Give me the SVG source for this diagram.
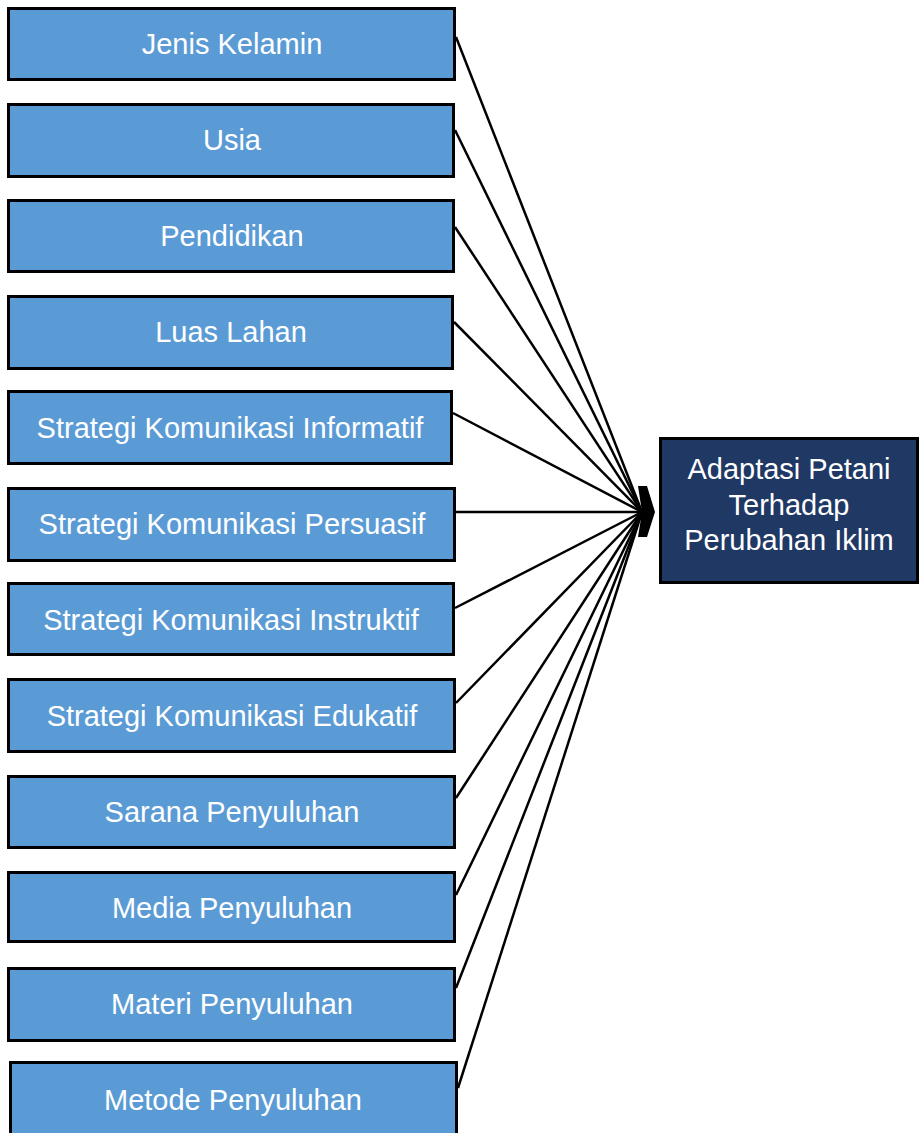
<svg xmlns="http://www.w3.org/2000/svg" width="919" height="1133" viewBox="0 0 919 1133">
<style>
.box{fill:#5B9BD5;stroke:#000;stroke-width:3}
.dark{fill:#203864;stroke:#000;stroke-width:3}
.t{font-family:"Liberation Sans",Arial,sans-serif;font-size:29px;fill:#fff;text-anchor:middle}
.c{stroke:#000;stroke-width:2.5;fill:none}
</style>
<rect width="919" height="1133" fill="#fff"/>
<g id="connectors">
<line class="c" x1="456" y1="37" x2="642" y2="512"/>
<line class="c" x1="455" y1="130" x2="642" y2="512"/>
<line class="c" x1="455" y1="227" x2="642" y2="512"/>
<line class="c" x1="454" y1="322" x2="642" y2="512"/>
<line class="c" x1="453" y1="413" x2="642" y2="512"/>
<line class="c" x1="456" y1="512" x2="642" y2="512"/>
<line class="c" x1="455" y1="608" x2="642" y2="512"/>
<line class="c" x1="456" y1="703" x2="642" y2="512"/>
<line class="c" x1="456" y1="798" x2="642" y2="512"/>
<line class="c" x1="456" y1="895" x2="642" y2="512"/>
<line class="c" x1="456" y1="988" x2="642" y2="512"/>
<line class="c" x1="458" y1="1088" x2="642" y2="512"/>
<polygon points="638,486 647,486 655,512 647,537 638,537 642,512" fill="#000"/>
</g>
<g id="n1"><rect class="box" x="8.5" y="8.5" width="446" height="71"/><text class="t" x="232" y="54">Jenis Kelamin</text></g>
<g id="n2"><rect class="box" x="8.5" y="104.5" width="445" height="72"/><text class="t" x="232" y="150">Usia</text></g>
<g id="n3"><rect class="box" x="8.5" y="200.5" width="445" height="71"/><text class="t" x="232" y="246">Pendidikan</text></g>
<g id="n4"><rect class="box" x="8.5" y="296.5" width="444" height="72"/><text class="t" x="231" y="342">Luas Lahan</text></g>
<g id="n5"><rect class="box" x="8.5" y="391.5" width="443" height="72"/><text class="t" x="230" y="438">Strategi Komunikasi Informatif</text></g>
<g id="n6"><rect class="box" x="8.5" y="488.5" width="446" height="72"/><text class="t" x="232" y="534">Strategi Komunikasi Persuasif</text></g>
<g id="n7"><rect class="box" x="8.5" y="583.5" width="445" height="71"/><text class="t" x="231" y="630">Strategi Komunikasi Instruktif</text></g>
<g id="n8"><rect class="box" x="8.5" y="679.5" width="446" height="72"/><text class="t" x="232" y="726">Strategi Komunikasi Edukatif</text></g>
<g id="n9"><rect class="box" x="8.5" y="776.5" width="446" height="71"/><text class="t" x="232" y="822">Sarana Penyuluhan</text></g>
<g id="n10"><rect class="box" x="8.5" y="872.5" width="446" height="69"/><text class="t" x="232" y="918">Media Penyuluhan</text></g>
<g id="n11"><rect class="box" x="8.5" y="968.5" width="446" height="72"/><text class="t" x="232" y="1014">Materi Penyuluhan</text></g>
<g id="n12"><rect class="box" x="10.5" y="1062.5" width="446" height="80"/><text class="t" x="233" y="1110">Metode Penyuluhan</text></g>
<g id="target"><rect class="dark" x="660.5" y="438.5" width="257" height="144"/>
<text class="t" x="789" y="479">Adaptasi Petani</text>
<text class="t" x="789" y="515">Terhadap</text>
<text class="t" x="789" y="550">Perubahan Iklim</text></g>
</svg>
